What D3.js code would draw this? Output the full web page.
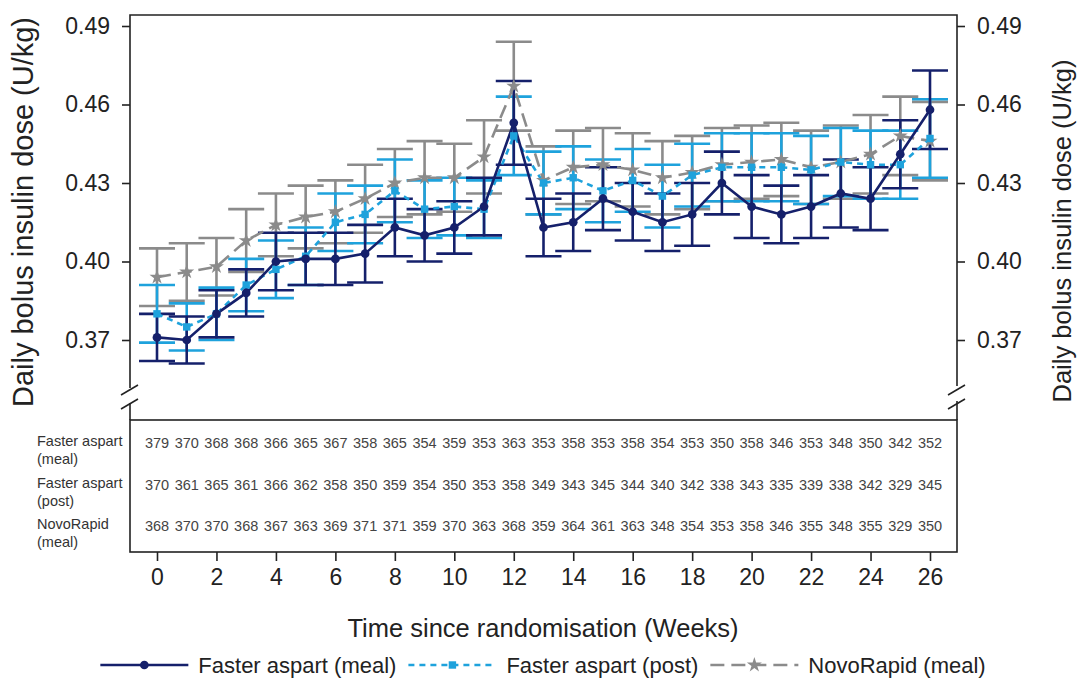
<!DOCTYPE html>
<html>
<head>
<meta charset="utf-8">
<script src="https://cdn.jsdelivr.net/npm/d3@7"></script>
<style>
    body { margin: 0; background: #fff; }
    svg { display: block; font-family: "Liberation Sans", Arial, sans-serif; }
</style>
</head>
<body>
<svg id="chart" width="1080" height="679"></svg>
<script>
const weeks = [0, 1, 2, 3, 4, 5, 6, 7, 8, 9, 10, 11, 12, 13, 14, 15, 16, 17, 18, 19, 20, 21, 22, 23, 24, 25, 26]
const weekTicks = [0, 2, 4, 6, 8, 10, 12, 14, 16, 18, 20, 22, 24, 26]
const doseTicks = [0.37, 0.40, 0.43, 0.46, 0.49]

// Faster aspart (meal)
const mealMean = [0.371, 0.370, 0.380, 0.388, 0.400, 0.401, 0.401, 0.403, 0.413, 0.410, 0.413, 0.421, 0.453, 0.413, 0.415, 0.424, 0.419, 0.415, 0.418, 0.430, 0.421, 0.418, 0.421, 0.426, 0.424, 0.441, 0.458]
const mealLower = [0.362, 0.361, 0.371, 0.379, 0.389, 0.391, 0.391, 0.392, 0.402, 0.400, 0.403, 0.410, 0.437, 0.402, 0.404, 0.412, 0.408, 0.404, 0.406, 0.418, 0.409, 0.407, 0.409, 0.413, 0.412, 0.428, 0.443]
const mealUpper = [0.380, 0.379, 0.389, 0.397, 0.411, 0.411, 0.411, 0.414, 0.424, 0.420, 0.423, 0.432, 0.469, 0.424, 0.426, 0.436, 0.430, 0.426, 0.430, 0.442, 0.433, 0.429, 0.433, 0.439, 0.436, 0.454, 0.473]

// Faster aspart (post)
const postMean = [0.380, 0.375, 0.380, 0.391, 0.397, 0.402, 0.415, 0.418, 0.427, 0.420, 0.421, 0.420, 0.448, 0.430, 0.432, 0.427, 0.431, 0.425, 0.433, 0.436, 0.436, 0.436, 0.435, 0.438, 0.437, 0.437, 0.447]
const postLower = [0.369, 0.366, 0.370, 0.381, 0.386, 0.391, 0.404, 0.407, 0.415, 0.409, 0.410, 0.409, 0.433, 0.418, 0.420, 0.415, 0.419, 0.413, 0.421, 0.423, 0.423, 0.423, 0.422, 0.425, 0.424, 0.424, 0.432]
const postUpper = [0.391, 0.384, 0.390, 0.401, 0.408, 0.413, 0.426, 0.429, 0.439, 0.431, 0.432, 0.431, 0.463, 0.442, 0.444, 0.439, 0.443, 0.437, 0.445, 0.449, 0.449, 0.449, 0.448, 0.451, 0.450, 0.450, 0.462]

// NovoRapid (meal)
const novoMean = [0.394, 0.396, 0.398, 0.408, 0.414, 0.417, 0.419, 0.424, 0.430, 0.432, 0.432, 0.440, 0.467, 0.431, 0.436, 0.437, 0.435, 0.432, 0.434, 0.437, 0.438, 0.439, 0.436, 0.438, 0.441, 0.448, 0.446]
const novoLower = [0.383, 0.385, 0.387, 0.396, 0.402, 0.405, 0.407, 0.411, 0.417, 0.418, 0.419, 0.426, 0.450, 0.418, 0.422, 0.423, 0.421, 0.418, 0.420, 0.423, 0.424, 0.425, 0.422, 0.424, 0.426, 0.433, 0.431]
const novoUpper = [0.405, 0.407, 0.409, 0.420, 0.426, 0.429, 0.431, 0.437, 0.443, 0.446, 0.445, 0.454, 0.484, 0.444, 0.450, 0.451, 0.449, 0.446, 0.448, 0.451, 0.452, 0.453, 0.450, 0.452, 0.456, 0.463, 0.461]

// number of subjects table
const mealCounts = [379, 370, 368, 368, 366, 365, 367, 358, 365, 354, 359, 353, 363, 353, 358, 353, 358, 354, 353, 350, 358, 346, 353, 348, 350, 342, 352]
const postCounts = [370, 361, 365, 361, 366, 362, 358, 350, 359, 354, 350, 353, 358, 349, 343, 345, 344, 340, 342, 338, 343, 335, 339, 338, 342, 329, 345]
const novoCounts = [368, 370, 370, 368, 367, 363, 369, 371, 371, 359, 370, 363, 368, 359, 364, 361, 363, 348, 354, 353, 358, 346, 355, 348, 355, 329, 350]

const svg = d3.select("#chart")

const plotLeft = 130
const plotRight = 957
const plotTop = 15
const tableTop = 420
const tableBottom = 552

const xScale = d3.scaleLinear().domain([0, 26]).range([157, 930])
const yScale = d3.scaleLinear().domain([0.37, 0.49]).range([340, 26])

const series = [
    { name: "NovoRapid (meal)", label: ["NovoRapid", "(meal)"], mean: novoMean, lower: novoLower, upper: novoUpper, counts: novoCounts, color: "#8b8b8b", dash: "14,7", symbol: d3.symbolStar, size: 70 },
    { name: "Faster aspart (post)", label: ["Faster aspart", "(post)"], mean: postMean, lower: postLower, upper: postUpper, counts: postCounts, color: "#1ea2dc", dash: "6,5", symbol: d3.symbolSquare, size: 55 },
    { name: "Faster aspart (meal)", label: ["Faster aspart", "(meal)"], mean: mealMean, lower: mealLower, upper: mealUpper, counts: mealCounts, color: "#15206b", dash: null, symbol: d3.symbolCircle, size: 60 }
]

// error bars first, then lines, then markers
const capHalf = 18
series.forEach(function (s) {
    const g = svg.append("g").attr("stroke", s.color).attr("stroke-width", 2.6).attr("fill", "none")
    weeks.forEach(function (w, i) {
        const cx = xScale(w)
        g.append("line").attr("x1", cx).attr("x2", cx).attr("y1", yScale(s.lower[i])).attr("y2", yScale(s.upper[i]))
        g.append("line").attr("x1", cx - capHalf).attr("x2", cx + capHalf).attr("y1", yScale(s.lower[i])).attr("y2", yScale(s.lower[i]))
        g.append("line").attr("x1", cx - capHalf).attr("x2", cx + capHalf).attr("y1", yScale(s.upper[i])).attr("y2", yScale(s.upper[i]))
    })
})

const line = d3.line()
    .x(d => xScale(d[0]))
    .y(d => yScale(d[1]))

series.forEach(function (s) {
    svg.append("path")
        .datum(weeks.map((w, i) => [w, s.mean[i]]))
        .attr("fill", "none")
        .attr("stroke", s.color)
        .attr("stroke-width", 2.6)
        .attr("stroke-dasharray", s.dash)
        .attr("d", line)
})

series.forEach(function (s) {
    svg.append("g")
        .selectAll("path")
        .data(weeks.map((w, i) => [w, s.mean[i]]))
        .join("path")
        .attr("transform", d => `translate(${xScale(d[0])},${yScale(d[1])})`)
        .attr("d", d3.symbol(s.symbol, s.size))
        .attr("fill", s.color)
})

// frame with axis breaks
const frame = svg.append("g").attr("stroke", "#222").attr("stroke-width", 1.6).attr("fill", "none")
frame.append("path").attr("d", `M${plotLeft},388 V${plotTop} H${plotRight} V386`)
frame.append("path").attr("d", `M${plotLeft},403 V${tableTop}`)
frame.append("path").attr("d", `M${plotRight},401 V${tableTop}`)
;[plotLeft, plotRight].forEach(function (bx) {
    frame.append("line").attr("x1", bx - 9).attr("y1", 395).attr("x2", bx + 8).attr("y2", 385)
    frame.append("line").attr("x1", bx - 9).attr("y1", 409).attr("x2", bx + 8).attr("y2", 399)
})

// table box
svg.append("rect")
    .attr("x", plotLeft).attr("y", tableTop)
    .attr("width", plotRight - plotLeft).attr("height", tableBottom - tableTop)
    .attr("fill", "none").attr("stroke", "#222").attr("stroke-width", 1.6)

const rowY = [443, 485, 526]
const tableOrder = [series[2], series[1], series[0]]
tableOrder.forEach(function (s, r) {
    const lab = svg.append("text")
        .attr("x", 37).attr("y", rowY[r] - 1)
        .attr("font-size", 14.5).attr("fill", "#333")
    lab.append("tspan").attr("x", 37).attr("dy", "0.3em").text(s.label[0])
    lab.append("tspan").attr("x", 37).attr("dy", "1.2em").text(s.label[1])

    svg.append("g")
        .selectAll("text")
        .data(s.counts)
        .join("text")
        .attr("x", (d, i) => xScale(weeks[i]))
        .attr("y", rowY[r])
        .attr("dy", "0.35em")
        .attr("text-anchor", "middle")
        .attr("font-size", 14.5)
        .attr("fill", "#444")
        .text(d => d)
})

// axes
const yAxisLeft = svg.append("g")
    .attr("transform", `translate(${plotLeft},0)`)
    .call(d3.axisLeft(yScale).tickValues(doseTicks).tickFormat(d3.format(".2f")).tickSize(8).tickPadding(12))
const yAxisRight = svg.append("g")
    .attr("transform", `translate(${plotRight},0)`)
    .call(d3.axisRight(yScale).tickValues(doseTicks).tickFormat(d3.format(".2f")).tickSize(8).tickPadding(12))
const xAxis = svg.append("g")
    .attr("transform", `translate(0,${tableBottom})`)
    .call(d3.axisBottom(xScale).tickValues(weekTicks).tickSize(9).tickPadding(8))

;[yAxisLeft, yAxisRight, xAxis].forEach(function (a) {
    a.select(".domain").remove()
    a.selectAll(".tick line").attr("stroke", "#222").attr("stroke-width", 1.6)
    a.selectAll(".tick text").attr("font-size", 23).attr("fill", "#222").attr("font-family", "Liberation Sans, Arial, sans-serif")
})

// titles
svg.append("text")
    .attr("transform", "translate(33,212) rotate(-90)")
    .attr("text-anchor", "middle")
    .attr("font-size", 29).attr("fill", "#222")
    .text("Daily bolus insulin dose (U/kg)")
svg.append("text")
    .attr("transform", "translate(1071,231) rotate(-90)")
    .attr("text-anchor", "middle")
    .attr("font-size", 25.5).attr("fill", "#222")
    .text("Daily bolus insulin dose (U/kg)")
svg.append("text")
    .attr("x", 543).attr("y", 637)
    .attr("text-anchor", "middle")
    .attr("font-size", 25.5).attr("fill", "#222")
    .text("Time since randomisation (Weeks)")

// legend
const legend = svg.append("g")
const legendY = 665
let lx = 0
tableOrder.forEach(function (s) {
    const item = legend.append("g").attr("transform", `translate(${lx},0)`)
    item.append("line")
        .attr("x1", 0).attr("x2", 88).attr("y1", legendY).attr("y2", legendY)
        .attr("stroke", s.color).attr("stroke-width", 2.6)
        .attr("stroke-dasharray", s.dash)
    item.append("path")
        .attr("transform", `translate(44,${legendY})`)
        .attr("d", d3.symbol(s.symbol, s.size))
        .attr("fill", s.color)
    const t = item.append("text")
        .attr("x", 98).attr("y", legendY).attr("dy", "0.35em")
        .attr("font-size", 22).attr("fill", "#222")
        .text(s.name)
    lx += 98 + t.node().getComputedTextLength() + 12
})
const legendWidth = lx - 12
legend.attr("transform", `translate(${543 - legendWidth / 2},0)`)
</script>
</body>
</html>
